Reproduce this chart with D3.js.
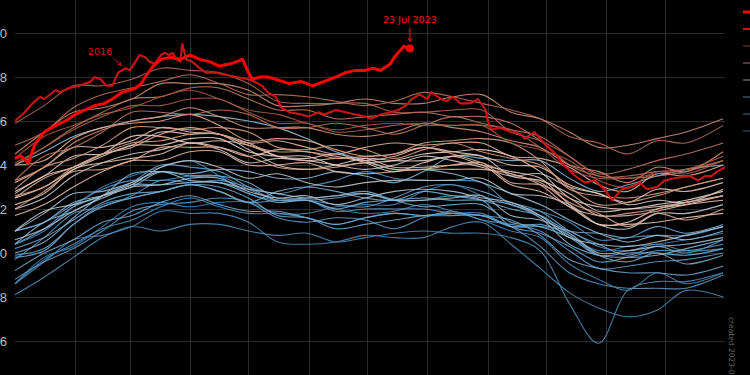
<!DOCTYPE html>
<html lang="en">
<head>
<meta charset="UTF-8">
<title>Daily sea surface temperature</title>
<style>
  body { margin: 0; background: #000; overflow: hidden; }
  svg { display: block; background: #000; font-family: "DejaVu Sans", sans-serif; }
  .grid line { stroke: #2c2c2c; stroke-width: 1; shape-rendering: crispEdges; }
  .grid .domain { display: none; }
  .ygrid text { fill: #bdbdbd; font-size: 13px; }
  .year { fill: none; stroke-width: 1.1; stroke-opacity: 0.9; }
</style>
</head>
<body>
<svg id="chart"></svg>
<script src="https://d3js.org/d3.v7.min.js"></script>
<script>
// day of year for every background sample (every ~15 days)
const sampleDays = [0,15,30,45,60,75,90,105,120,135,150,165,180,195,210,225,240,255,270,285,300,315,330,345,364];

// world sea surface temperature, deg C
const sst1982 = [19.86,19.98,20.03,20.12,20.21,20.23,20.21,20.23,20.23,20.18,20.18,20.21,20.22,20.22,20.28,20.31,20.26,20.22,20.17,20.08,20.01,20.03,20.04,20.06,20.09];
const sst1983 = [20.04,20.10,20.21,20.30,20.35,20.39,20.42,20.35,20.27,20.24,20.24,20.20,20.18,20.19,20.22,20.19,20.15,20.10,20.07,19.95,19.88,19.83,19.91,19.86,19.91];
const sst1984 = [19.86,19.96,20.06,20.08,20.12,20.19,20.18,20.18,20.14,20.05,20.04,20.05,20.08,20.07,20.07,20.12,20.14,20.04,19.93,19.82,19.75,19.71,19.74,19.83,19.80];
const sst1985 = [19.81,19.89,19.98,20.07,20.12,20.10,20.13,20.13,20.10,20.08,20.09,20.05,20.07,20.09,20.10,20.09,20.09,20.07,20.01,19.77,19.59,19.83,19.87,19.87,19.91];
const sst1986 = [19.86,19.97,20.04,20.11,20.15,20.21,20.25,20.21,20.18,20.18,20.16,20.13,20.16,20.18,20.17,20.18,20.18,20.12,20.12,20.10,20.03,20.01,20.04,20.01,20.02];
const sst1987 = [19.97,20.07,20.18,20.21,20.26,20.33,20.32,20.33,20.30,20.27,20.30,20.33,20.37,20.34,20.33,20.33,20.32,20.22,20.19,20.14,20.06,20.07,20.08,20.08,20.12];
const sst1988 = [20.10,20.14,20.22,20.29,20.33,20.33,20.35,20.35,20.29,20.24,20.24,20.19,20.20,20.20,20.20,20.18,20.17,20.12,20.03,19.91,19.86,19.84,19.84,19.84,19.90];
const sst1989 = [19.88,19.96,20.02,20.10,20.19,20.22,20.23,20.25,20.23,20.16,20.14,20.16,20.15,20.11,20.16,20.19,20.15,20.13,20.10,20.01,19.93,19.94,19.96,19.97,20.00];
const sst1990 = [19.99,20.02,20.13,20.22,20.25,20.28,20.31,20.28,20.23,20.24,20.24,20.22,20.21,20.25,20.30,20.31,20.28,20.23,20.19,20.10,20.04,19.99,20.03,20.00,20.06];
const sst1991 = [20.04,20.11,20.21,20.26,20.32,20.40,20.39,20.37,20.30,20.24,20.24,20.25,20.27,20.24,20.24,20.26,20.24,20.12,20.09,20.03,19.96,19.98,20.01,20.01,20.04];
const sst1992 = [20.02,20.07,20.15,20.23,20.27,20.28,20.31,20.30,20.25,20.17,20.16,20.11,20.13,20.15,20.17,20.18,20.17,20.15,20.08,19.97,19.93,19.91,19.91,19.90,19.94];
const sst1993 = [19.92,20.00,20.06,20.14,20.17,20.23,20.26,20.22,20.19,20.19,20.16,20.13,20.16,20.18,20.17,20.17,20.17,20.12,20.13,20.08,19.99,19.96,20.00,19.95,19.99];
const sst1994 = [19.98,20.01,20.13,20.21,20.25,20.28,20.31,20.28,20.23,20.28,20.30,20.28,20.25,20.24,20.28,20.26,20.24,20.20,20.17,20.10,20.09,20.07,20.12,20.09,20.13];
const sst1995 = [20.10,20.14,20.23,20.26,20.30,20.37,20.35,20.35,20.32,20.25,20.25,20.26,20.28,20.24,20.21,20.22,20.22,20.14,20.12,20.07,19.99,20.00,20.00,19.99,20.02];
const sst1996 = [20.00,20.05,20.16,20.26,20.31,20.31,20.32,20.32,20.27,20.23,20.24,20.20,20.23,20.24,20.25,20.24,20.24,20.22,20.16,20.04,19.99,19.98,19.99,20.02,20.06];
const sst1997 = [20.04,20.14,20.19,20.26,20.36,20.37,20.36,20.38,20.37,20.34,20.34,20.37,20.35,20.32,20.37,20.44,20.43,20.42,20.42,20.34,20.28,20.31,20.35,20.38,20.40];
const sst1998 = [20.40,20.46,20.53,20.57,20.60,20.62,20.63,20.62,20.60,20.57,20.52,20.46,20.42,20.38,20.38,20.36,20.32,20.27,20.22,20.15,20.09,20.05,20.08,20.06,20.10];
const sst1999 = [20.10,20.18,20.27,20.28,20.32,20.37,20.33,20.32,20.29,20.27,20.25,20.26,20.27,20.24,20.24,20.25,20.26,20.17,20.15,20.09,20.00,20.01,20.03,20.04,20.07];
const sst2000 = [20.06,20.11,20.19,20.25,20.30,20.31,20.34,20.34,20.28,20.25,20.26,20.22,20.25,20.28,20.29,20.28,20.25,20.23,20.17,20.07,20.04,20.03,20.05,20.08,20.12];
const sst2001 = [20.10,20.19,20.22,20.26,20.31,20.39,20.42,20.39,20.34,20.36,20.32,20.30,20.32,20.33,20.33,20.33,20.34,20.27,20.26,20.22,20.13,20.11,20.18,20.18,20.22];
const sst2002 = [20.20,20.25,20.35,20.41,20.45,20.47,20.50,20.47,20.41,20.43,20.42,20.40,20.38,20.40,20.44,20.42,20.39,20.35,20.36,20.30,20.27,20.22,20.24,20.23,20.29];
const sst2003 = [20.28,20.35,20.44,20.45,20.49,20.55,20.54,20.54,20.47,20.40,20.38,20.40,20.43,20.42,20.42,20.44,20.44,20.35,20.33,20.27,20.19,20.20,20.21,20.23,20.26];
const sst2004 = [20.25,20.30,20.38,20.44,20.49,20.49,20.52,20.52,20.46,20.44,20.44,20.40,20.41,20.42,20.45,20.46,20.47,20.44,20.37,20.25,20.21,20.20,20.22,20.24,20.28];
const sst2005 = [20.27,20.35,20.39,20.45,20.53,20.53,20.50,20.51,20.49,20.44,20.43,20.45,20.41,20.37,20.41,20.44,20.40,20.37,20.34,20.22,20.13,20.14,20.20,20.22,20.24];
const sst2006 = [20.22,20.27,20.38,20.41,20.43,20.45,20.50,20.48,20.44,20.47,20.46,20.44,20.42,20.44,20.48,20.46,20.44,20.40,20.39,20.31,20.27,20.23,20.29,20.28,20.32];
const sst2007 = [20.32,20.39,20.48,20.48,20.51,20.57,20.55,20.54,20.50,20.44,20.42,20.43,20.43,20.39,20.39,20.40,20.40,20.31,20.28,20.21,20.13,20.13,20.14,20.16,20.18];
const sst2008 = [20.17,20.22,20.30,20.37,20.42,20.42,20.46,20.46,20.40,20.40,20.41,20.37,20.36,20.37,20.38,20.38,20.38,20.36,20.31,20.21,20.17,20.17,20.19,20.22,20.26];
const sst2009 = [20.25,20.34,20.39,20.45,20.48,20.54,20.57,20.54,20.50,20.51,20.48,20.45,20.48,20.50,20.49,20.50,20.50,20.44,20.43,20.39,20.31,20.28,20.36,20.35,20.40];
const sst2010 = [20.40,20.42,20.52,20.57,20.59,20.60,20.63,20.58,20.51,20.52,20.51,20.47,20.44,20.45,20.48,20.45,20.41,20.36,20.32,20.23,20.18,20.12,20.18,20.15,20.20];
const sst2011 = [20.20,20.28,20.37,20.38,20.42,20.48,20.48,20.48,20.44,20.39,20.38,20.39,20.41,20.38,20.38,20.40,20.41,20.32,20.31,20.25,20.17,20.18,20.20,20.23,20.26];
const sst2012 = [20.26,20.30,20.39,20.45,20.50,20.51,20.54,20.54,20.49,20.46,20.46,20.43,20.44,20.45,20.50,20.51,20.52,20.50,20.42,20.29,20.26,20.25,20.27,20.30,20.34];
const sst2013 = [20.29,20.39,20.43,20.49,20.57,20.57,20.56,20.57,20.55,20.48,20.47,20.49,20.47,20.43,20.47,20.50,20.46,20.43,20.40,20.30,20.22,20.23,20.26,20.30,20.34];
const sst2014 = [20.33,20.39,20.50,20.56,20.60,20.62,20.66,20.62,20.57,20.57,20.57,20.54,20.53,20.55,20.59,20.57,20.55,20.51,20.48,20.40,20.37,20.32,20.39,20.37,20.46];
const sst2015 = [20.45,20.55,20.64,20.66,20.70,20.77,20.77,20.77,20.74,20.67,20.67,20.68,20.70,20.68,20.68,20.71,20.72,20.64,20.61,20.55,20.48,20.49,20.52,20.55,20.61];
const sst2017 = [20.40,20.48,20.57,20.64,20.70,20.71,20.75,20.75,20.70,20.65,20.65,20.61,20.62,20.63,20.64,20.62,20.62,20.59,20.51,20.40,20.35,20.34,20.35,20.37,20.42];
const sst2018 = [20.33,20.44,20.48,20.55,20.64,20.64,20.63,20.65,20.63,20.57,20.57,20.59,20.57,20.54,20.58,20.62,20.59,20.56,20.53,20.44,20.36,20.38,20.42,20.45,20.50];
const sst2019 = [20.49,20.55,20.66,20.72,20.75,20.78,20.81,20.77,20.72,20.72,20.71,20.69,20.67,20.69,20.73,20.71,20.68,20.65,20.61,20.53,20.50,20.45,20.51,20.50,20.58];
const sst2020 = [20.59,20.67,20.76,20.76,20.79,20.84,20.83,20.82,20.77,20.69,20.68,20.68,20.68,20.64,20.64,20.65,20.65,20.55,20.51,20.44,20.35,20.35,20.37,20.38,20.42];
const sst2021 = [20.41,20.48,20.56,20.62,20.67,20.67,20.70,20.70,20.64,20.59,20.59,20.55,20.56,20.58,20.59,20.58,20.58,20.56,20.48,20.38,20.34,20.34,20.36,20.38,20.44];
const sst2022 = [20.43,20.53,20.58,20.63,20.66,20.71,20.74,20.70,20.65,20.63,20.59,20.56,20.58,20.59,20.58,20.58,20.58,20.50,20.47,20.42,20.33,20.30,20.37,20.36,20.42];

const years = [1982,1983,1984,1985,1986,1987,1988,1989,1990,1991,1992,1993,1994,1995,1996,1997,1998,1999,2000,2001,2002,2003,2004,2005,2006,2007,2008,2009,2010,2011,2012,2013,2014,2015,2017,2018,2019,2020,2021,2022];
const yearSeries = [sst1982,sst1983,sst1984,sst1985,sst1986,sst1987,sst1988,sst1989,sst1990,sst1991,sst1992,sst1993,sst1994,sst1995,sst1996,sst1997,sst1998,sst1999,sst2000,sst2001,sst2002,sst2003,sst2004,sst2005,sst2006,sst2007,sst2008,sst2009,sst2010,sst2011,sst2012,sst2013,sst2014,sst2015,sst2017,sst2018,sst2019,sst2020,sst2021,sst2022];

// highlighted years, denser samples
const days2016 = [0,5,9,13,15,21,23,28,33,39,41,44,47,50,53,57,59,62,64,67,69,72,75,77,79,81,83,85,86,88,91,95,98,103,108,114,120,123,127,130,134,137,141,147,151,156,159,165,170,175,180,183,188,193,197,201,204,208,212,214,219,222,225,229,234,238,242,243,245,249,255,260,262,267,273,278,281,288,293,298,303,307,312,317,321,325,330,334,339,347,351,355,358,361,365];
const sst2016 = [20.60,20.64,20.68,20.71,20.70,20.74,20.73,20.75,20.76,20.78,20.80,20.79,20.76,20.76,20.82,20.84,20.83,20.87,20.90,20.89,20.87,20.86,20.90,20.91,20.90,20.91,20.88,20.87,20.95,20.88,20.87,20.84,20.82,20.82,20.81,20.80,20.79,20.78,20.76,20.73,20.71,20.66,20.64,20.63,20.62,20.64,20.63,20.65,20.64,20.63,20.62,20.61,20.63,20.64,20.65,20.67,20.70,20.72,20.70,20.73,20.70,20.69,20.71,20.68,20.68,20.70,20.65,20.60,20.56,20.57,20.55,20.54,20.52,20.55,20.49,20.45,20.41,20.35,20.32,20.33,20.29,20.24,20.29,20.30,20.32,20.29,20.30,20.33,20.34,20.35,20.33,20.35,20.35,20.37,20.39];
const days2023 = [0,3,7,10,15,21,26,31,36,41,46,50,55,59,62,65,67,71,75,80,85,90,95,100,105,111,117,120,122,126,130,134,141,147,153,159,165,170,175,180,184,188,193,195,198,200,202,203];
const sst2023 = [20.43,20.44,20.41,20.49,20.55,20.58,20.60,20.63,20.65,20.67,20.68,20.70,20.73,20.74,20.75,20.77,20.80,20.85,20.88,20.89,20.88,20.90,20.88,20.87,20.85,20.86,20.88,20.82,20.79,20.80,20.80,20.79,20.77,20.78,20.76,20.78,20.80,20.82,20.83,20.83,20.84,20.83,20.86,20.89,20.92,20.94,20.93,20.93];

// axis ticks
const yTicks = [19.6,19.8,20.0,20.2,20.4,20.6,20.8,21.0];
const monthStarts = [31,59,90,120,151,181,212,243,273,304,334];

// legend swatches (labels sit past the right edge of the picture)
const legendYears = [2023,2016,2022,2012,2002,1994,1988,1982];

const width = 750, height = 375;
const svg = d3.select('#chart').attr('width', width).attr('height', height);

const x = d3.scaleLinear().domain([0, 365]).range([15, 725]);
const y = d3.scaleLinear().domain([19.6, 21.0]).range([341, 33]);

const yearColor = d3.scaleLinear()
    .domain([1982, 1997, 2004, 2012, 2022])
    .range(["#3f7eae", "#84b7d8", "#ead0c3", "#dea287", "#a65a45"]);
const red2023 = "#ff0000", red2016 = "#cc1418";

// gridlines via axes
svg.append('g')
    .attr('class', 'grid ygrid')
    .attr('transform', 'translate(' + x(0) + ',0)')
    .call(d3.axisLeft(y).tickValues(yTicks).tickSize(-(x(365) - x(0))).tickPadding(8).tickFormat(d3.format('.1f')));

svg.append('g')
    .attr('class', 'grid xgrid')
    .attr('transform', 'translate(0,' + height + ')')
    .call(d3.axisBottom(x).tickValues(monthStarts).tickSize(-height).tickFormat(''));

// one line per year
const yearLine = d3.line()
    .x((d, i) => x(sampleDays[i]))
    .y(d => y(d))
    .curve(d3.curveCatmullRom.alpha(0.5));

svg.append('g').selectAll('path')
    .data(yearSeries)
    .join('path')
    .attr('class', 'year')
    .attr('stroke', (d, i) => yearColor(years[i]))
    .attr('d', yearLine);

const pairLine = d3.line().x(d => x(d[0])).y(d => y(d[1]));

svg.append('path')
    .datum(d3.zip(days2016, sst2016))
    .attr('fill', 'none')
    .attr('stroke', red2016)
    .attr('stroke-width', 2.1)
    .attr('stroke-linejoin', 'round')
    .attr('d', pairLine);

svg.append('path')
    .datum(d3.zip(days2023, sst2023))
    .attr('fill', 'none')
    .attr('stroke', red2023)
    .attr('stroke-width', 3)
    .attr('stroke-linejoin', 'round')
    .attr('d', pairLine);

// end point of 2023
const lastDay = days2023[days2023.length - 1];
const lastVal = sst2023[sst2023.length - 1];
const ex = x(lastDay), ey = y(lastVal);
svg.append('circle').attr('cx', ex).attr('cy', ey).attr('r', 4).attr('fill', red2023);

// annotations
function arrow(x1, y1, x2, y2, color) {
    const a = Math.atan2(y2 - y1, x2 - x1), h = 4;
    svg.append('path')
        .attr('d', 'M' + x1 + ',' + y1 + 'L' + x2 + ',' + y2 +
            'M' + (x2 - h * Math.cos(a - 0.5)) + ',' + (y2 - h * Math.sin(a - 0.5)) +
            'L' + x2 + ',' + y2 +
            'L' + (x2 - h * Math.cos(a + 0.5)) + ',' + (y2 - h * Math.sin(a + 0.5)))
        .attr('fill', 'none').attr('stroke', color).attr('stroke-width', 1);
}

svg.append('text')
    .attr('x', ex).attr('y', ey - 25)
    .attr('text-anchor', 'middle')
    .attr('fill', red2023)
    .attr('font-size', '9.5px')
    .text('23 Jul 2023');
arrow(ex, ey - 21, ex, ey - 7, red2023);

const tx = x(days2016[14]) + 3, ty = y(sst2016[14]) - 7;
svg.append('text')
    .attr('x', tx - 21).attr('y', ty - 11)
    .attr('text-anchor', 'middle')
    .attr('fill', red2016)
    .attr('font-size', '9.5px')
    .text('2016');
arrow(tx - 7, ty - 7, tx, ty, red2016);

// legend, cut off at the right edge like the original
const legend = svg.append('g').attr('transform', 'translate(743,12)');
legend.selectAll('line')
    .data(legendYears)
    .join('line')
    .attr('x1', 0).attr('x2', 22)
    .attr('y1', (d, i) => i * 17).attr('y2', (d, i) => i * 17)
    .attr('stroke', (d, i) => i === 0 ? red2023 : i === 1 ? red2016 : yearColor(d))
    .attr('stroke-opacity', (d, i) => i < 2 ? 1 : 0.6)
    .attr('stroke-width', (d, i) => i === 0 ? 3 : i === 1 ? 2 : 1.2);

// credit line
svg.append('text')
    .attr('transform', 'translate(729,317) rotate(90)')
    .attr('fill', '#666')
    .attr('font-size', '7.5px')
    .text('created 2023-07-24');
</script>
</body>
</html>
